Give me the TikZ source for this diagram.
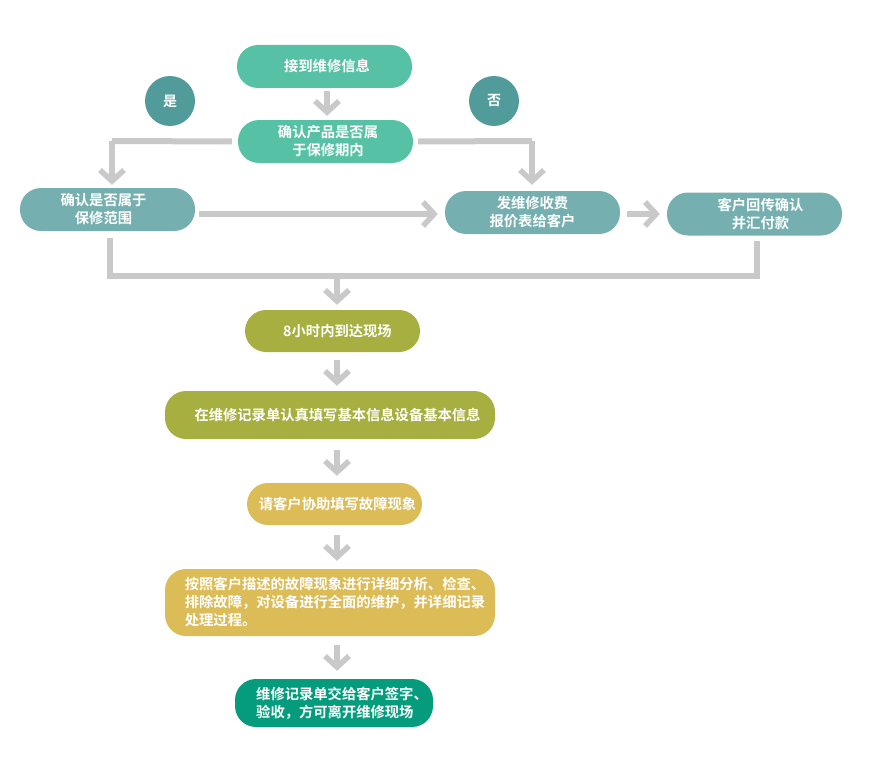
\documentclass[tikz,border=0pt]{standalone}
\usepackage{fontspec}
\setmainfont{Noto Sans CJK SC}[BoldFont={Noto Sans CJK SC Bold}]
\usetikzlibrary{arrows.meta,calc}
\definecolor{cgreen}{HTML}{56C1A5}
\definecolor{ccirc}{HTML}{529B9B}
\definecolor{cteal}{HTML}{76AFAF}
\definecolor{colive}{HTML}{A6AF3F}
\definecolor{cyell}{HTML}{DCBC56}
\definecolor{cdark}{HTML}{059C7E}
\definecolor{cgray}{HTML}{C9C9C9}
\tikzset{
  box/.style={rectangle, rounded corners=21pt, minimum width=175pt, minimum height=43pt,
    text=white, font=\bfseries\fontsize{14.3}{18}\selectfont, align=center, inner sep=0pt},
  circ/.style={circle, fill=ccirc, minimum size=50pt, text=white, font=\bfseries\fontsize{14}{18}\selectfont, inner sep=0pt},
  conn/.style={draw=cgray, line width=6pt},
  arr/.style={conn, -{Straight Barb[length=11pt,width=24pt,line width=5.5pt]}},
}
\begin{document}
\begin{tikzpicture}[x=1pt,y=-1pt]
\useasboundingbox (0,0) rectangle (869,773);
\node[box, fill=cgreen] (a1) at (324.5,66.5) {\hspace*{5pt}接到维修信息};
\node[box, fill=cgreen] (a2) at (325.5,141.5) {\hspace*{5pt}确认产品是否属\\\hspace*{5pt}于保修期内};
\node[circ] (yes) at (170,101) {是};
\node[circ] (no) at (494,101) {否};
\node[box, fill=cteal] (b1) at (107.5,209.5) {确认是否属于\hspace*{8pt}\\保修范围\hspace*{8pt}};
\node[box, fill=cteal] (b2) at (532.5,212.5) {发维修收费\\报价表给客户};
\node[box, fill=cteal] (b3) at (754.5,214) {\hspace*{12pt}客户回传确认\\\hspace*{12pt}并汇付款};
\node[box, fill=colive, minimum height=42pt] (c1) at (332.5,331) {\hspace*{10pt}8小时内到达现场};
\node[box, fill=colive, minimum width=330pt, minimum height=48pt] (c2) at (330,415) {\hspace*{15pt}在维修记录单认真填写基本信息设备基本信息};
\node[box, fill=cyell, minimum height=42pt] (d1) at (334.5,504) {\hspace*{6pt}请客户协助填写故障现象};
\node[box, fill=cyell, minimum width=330pt, minimum height=67pt, align=left] (d2) at (330,602.5) {\hspace*{10pt}按照客户描述的故障现象进行详细分析、检查、\\\hspace*{10pt}排除故障，对设备进行全面的维护，并详细记录\\\hspace*{10pt}处理过程。};
\node[box, fill=cdark, minimum width=198pt, minimum height=48pt, align=left] (e1) at (334,703) {\hspace*{16pt}维修记录单交给客户签字、\\\hspace*{16pt}验收，方可离开维修现场};
\coordinate (lk) at (112,141);
\coordinate (rk) at (532,141);
\coordinate (bj) at (337,276);
\draw[conn] ($(a2.west)+(-6,0)$) -- (lk);
\draw[arr] (lk) -- ($(b1.north)+(4.5,-3)$);
\draw[conn] ($(a2.east)+(5,0)$) -- (rk);
\draw[arr] (rk) -- ($(b2.north)+(-0.5,-6)$);
\draw[arr] ($(a1.south)+(2.5,3)$) -- ($(a2.north)+(1.5,-4)$);
\draw[arr] ($(b1.east)+(4,4.5)$) -- ($(b2.west)+(-7,1.5)$);
\draw[arr] ($(b2.east)+(7,1.5)$) -- ($(b3.west)+(-7,0)$);
\draw[conn] ($(b1.south)+(2.5,7)$) |- ($(bj)+(3,0)$);
\draw[conn] ($(b3.south)+(2.5,5)$) |- ($(bj)+(-3,0)$);
\draw[arr] (bj) -- ($(c1.north)+(4.5,-5)$);
\draw[arr] ($(c1.south)+(4.5,8)$) -- ($(c2.north)+(7,-5)$);
\draw[arr] ($(c2.south)+(7,11)$) -- ($(d1.north)+(2.5,-7)$);
\draw[arr] ($(d1.south)+(2.5,10)$) -- ($(d2.north)+(7,-8)$);
\draw[arr] ($(d2.south)+(7,9)$) -- ($(e1.north)+(3,-8)$);
\end{tikzpicture}
\end{document}
